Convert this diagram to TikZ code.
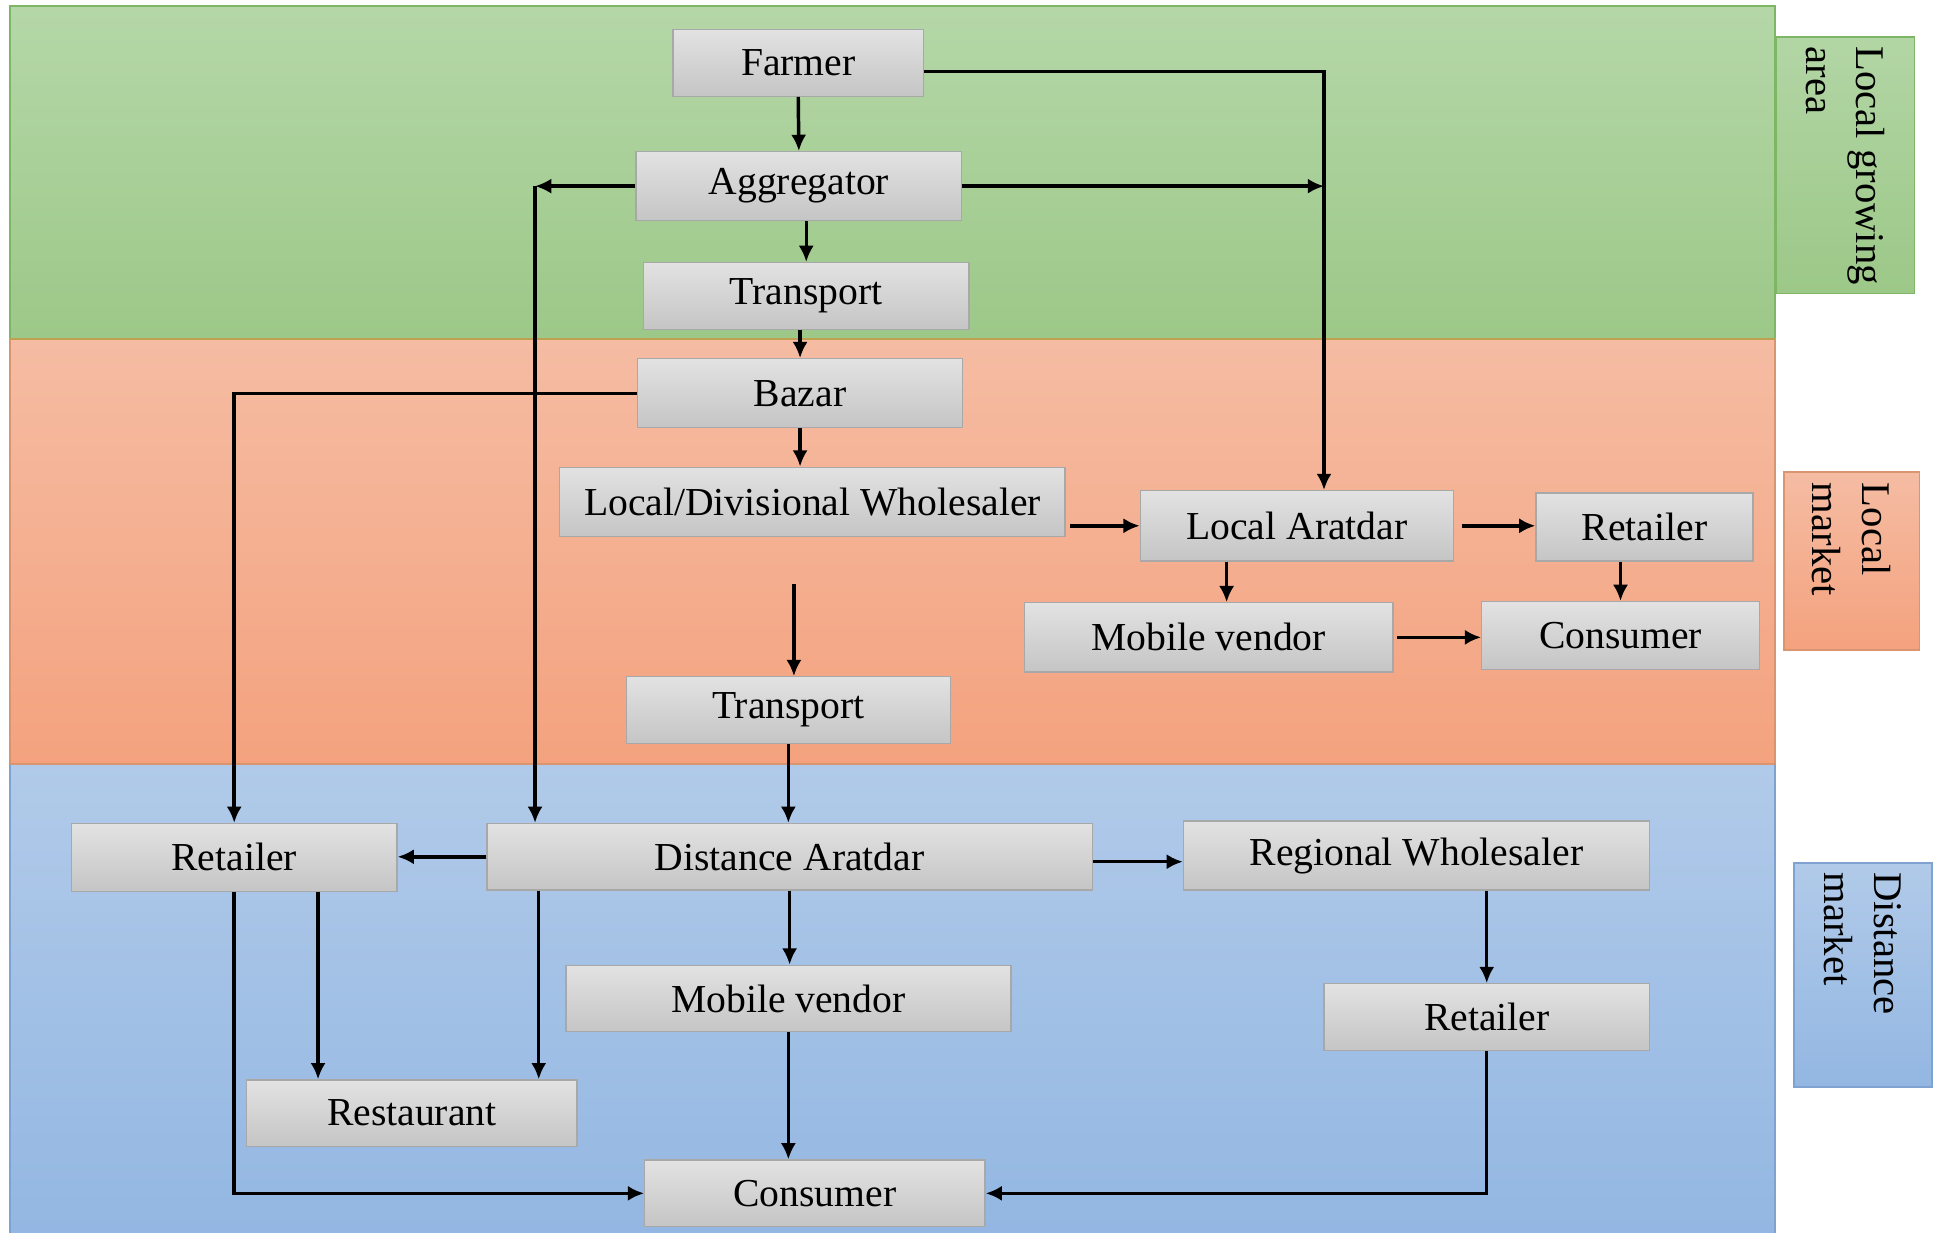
\documentclass[tikz,border=0pt]{standalone}
\usepackage{fontspec}
\setmainfont{Liberation Serif}
\usetikzlibrary{arrows.meta,calc}
\definecolor{gtop}{HTML}{B5D7A8}
\definecolor{gbot}{HTML}{9CC888}
\definecolor{gbrd}{HTML}{7DB766}
\definecolor{otop}{HTML}{F5BCA3}
\definecolor{obot}{HTML}{F4A27E}
\definecolor{obrd}{HTML}{D9956F}
\definecolor{btop}{HTML}{B1CAE9}
\definecolor{bbot}{HTML}{93B7E2}
\definecolor{bbrd}{HTML}{7FA3D0}
\definecolor{ntop}{HTML}{E2E2E2}
\definecolor{nbot}{HTML}{C5C5C5}
\definecolor{nbrd}{HTML}{A8A8A8}
\tikzset{
  px/.style 2 args={minimum width=#1*0.02cm, minimum height=#2*0.02cm},
  flowbox/.style={draw=nbrd, line width=0.6pt, top color=ntop, bottom color=nbot,
    inner sep=0pt, font=\fontsize{18.3}{22}\selectfont},
  sidebox/.style={line width=0.8pt, inner sep=0pt},
  sidetext/.style={rotate=-90, anchor=west, align=left, inner sep=0pt,
    font=\fontsize{18.8}{23}\selectfont},
  arr/.style={line width=1.6pt, -{Latex[length=7.5pt,width=7pt]}},
  ln/.style={line width=1.6pt}
}
\begin{document}
\begin{tikzpicture}[x=0.02cm,y=-0.02cm]
\useasboundingbox (0,0) rectangle (1568,1000);
% bands
\shade[top color=gtop, bottom color=gbot] (8,5) rectangle (1440,275);
\draw[gbrd, line width=0.8pt] (8,275) -- (8,5) -- (1440,5) -- (1440,275);
\shade[top color=otop, bottom color=obot] (8,275) rectangle (1440,620);
\draw[obrd, line width=0.8pt] (8,620) -- (8,275) -- (1440,275) -- (1440,620);
\draw[color={rgb,255:red,190;green,160;blue,80}, line width=0.8pt] (8,275) -- (1440,275);
\shade[top color=btop, bottom color=bbot] (8,620) rectangle (1440,1000);
\draw[bbrd, line width=0.8pt] (8,1000) -- (8,620) -- (1440,620) -- (1440,1000);
\draw[obrd, line width=0.8pt] (8,620) -- (1440,620);
% side labels
\node[sidebox, px={112}{208}, draw=gbrd, top color=gtop!90!gbot, bottom color=gbot] (lga) at (1497,134) {};
\node[sidetext] (lgat) at ([yshift=-8*0.02cm]lga.north) {Local growing\\area};
\node[sidebox, px={110}{144}, draw=obrd, top color=otop, bottom color=obot] (lm) at (1502,455) {};
\node[sidetext] (lmt) at ([yshift=-9*0.02cm]lm.north) {Local\\market};
\node[sidebox, px={112}{182}, draw=bbrd, top color=btop, bottom color=bbot] (dm) at (1511,791) {};
\node[sidetext] (dmt) at ([yshift=-8*0.02cm]dm.north) {Distance\\market};
% nodes
\node[flowbox, px={203}{54}] (farmer) at (647.5,51) {Farmer};
\node[flowbox, px={264}{56}] (agg) at (648,151) {Aggregator};
\node[flowbox, px={264}{54}] (tr1) at (654,240) {Transport};
\node[flowbox, px={264}{56}] (bazar) at (649,319) {Bazar};
\node[flowbox, px={410}{56}] (ldw) at (659,407) {Local/Divisional Wholesaler};
\node[flowbox, px={254}{57}] (la) at (1052,426.5) {Local Aratdar};
\node[flowbox, px={176}{55}] (retL) at (1334,427.5) {Retailer};
\node[flowbox, px={299}{56}] (mvL) at (980.5,517) {Mobile vendor};
\node[flowbox, px={225}{55}] (conL) at (1314.5,515.5) {Consumer};
\node[flowbox, px={263}{54}] (tr2) at (639.5,576) {Transport};
\node[flowbox, px={264}{55}] (retD) at (190,695.5) {Retailer};
\node[flowbox, px={491}{54}] (da) at (640.5,695) {Distance Aratdar};
\node[flowbox, px={378}{56}] (rw) at (1149,694) {Regional Wholesaler};
\node[flowbox, px={361}{54}] (mvD) at (639.5,810) {Mobile vendor};
\node[flowbox, px={264}{54}] (retR) at (1206,825) {Retailer};
\node[flowbox, px={268}{54}] (rest) at (334,903) {Restaurant};
\node[flowbox, px={276}{54}] (conD) at (661,968) {Consumer};
% helper coordinates
\coordinate (fk) at (1074,58);
\coordinate (ak) at (434,151);
\coordinate (ts) at (644,474);
\coordinate (mvx) at (995,0);
\coordinate (dr) at (437,0);
\coordinate (rr) at (258,0);
\coordinate (lx) at (868,0);
\coordinate (ry) at (0,699);
% connectors
\draw[arr] (farmer.south) -- (agg.north);
\draw[arr] (farmer.east |- fk) -- (fk) -- (fk |- la.north);
\draw[arr] (agg.east) -- (agg.east -| fk);
\draw[arr] (agg.west) -- (ak);
\draw[arr] (ak) -- (ak |- da.north);
\draw[arr] (tr1.north |- agg.south) -- (tr1.north);
\draw[arr] (bazar.north |- tr1.south) -- (bazar.north);
\draw[arr] (bazar.west) -| (retD.north);
\draw[arr] (bazar.south) -- (bazar.south |- ldw.north);
\draw[arr] (ts) -- (ts |- tr2.north);
\draw[arr] (lx |- la.west) -- (la.west);
\draw[arr] ([xshift=6*0.02cm]la.east) -- (retL.west |- la.east);
\draw[arr] (mvx |- la.south) -- (mvx |- mvL.north);
\draw[arr] (conL.north |- retL.south) -- (conL.north);
\draw[arr] ([xshift=3*0.02cm]mvL.east) -- (conL.west |- mvL.east);
\draw[arr] (tr2.south) -- (tr2.south |- da.north);
\draw[arr] (da.west) -- (retD.east |- da.west);
\draw[arr] (da.east |- ry) -- (rw.west |- ry);
\draw[arr] (da.south) -- (da.south |- mvD.north);
\draw[arr] (dr |- da.south) -- (dr |- rest.north);
\draw[arr] (rr |- retD.south) -- (rr |- rest.north);
\draw[arr] (retD.south) |- (conD.west);
\draw[arr] (mvD.south) -- (mvD.south |- conD.north);
\draw[arr] (rw.south -| retR.north) -- (retR.north);
\draw[arr] (retR.south) |- (conD.east);
\end{tikzpicture}
\end{document}
